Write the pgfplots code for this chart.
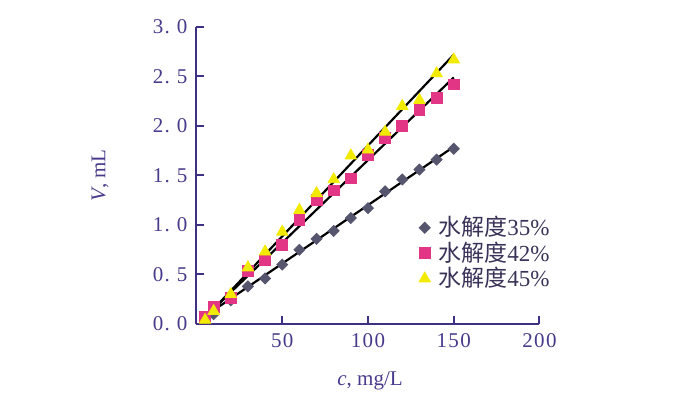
\documentclass[border=0pt]{standalone}
\usepackage{pgfplots}
\pgfplotsset{compat=1.18}
\usepackage{fontspec}
\setmainfont{Liberation Serif}
\newfontfamily\cjk{Noto Sans CJK SC}
\definecolor{axpurple}{HTML}{3F2F85}
\definecolor{txtpurple}{HTML}{4A3A8C}
\definecolor{legtxt}{HTML}{3A3258}
\definecolor{dia}{HTML}{55556E}
\definecolor{sq}{HTML}{E23585}
\definecolor{tri}{HTML}{F2EA00}
\begin{document}
\begin{tikzpicture}
\begin{axis}[
  name=ax,
  scale only axis,
  width=171.5pt, height=148.5pt,
  xmin=0, xmax=200, ymin=0, ymax=3,
  axis lines=left,
  axis line style={-, line width=1pt, color=axpurple},
  tick style={line width=1pt, color=axpurple},
  tick align=inside,
  major tick length=4pt,
  xtick={50,100,150,200},
  xticklabels={50,100,150,200},
  ytick={0,0.5,1,1.5,2,2.5,3},
  yticklabels={0.\,\,0,0.\,\,5,1.\,\,0,1.\,\,5,2.\,\,0,2.\,\,5,3.\,\,0},
  ticklabel style={font=\addfontfeature{LetterSpace=6}\fontsize{10.5}{12}\selectfont, text=txtpurple},
  xticklabel style={yshift=-1pt},
  yticklabel style={xshift=-1pt},
  xlabel={\textit{c}, mg/L},
  ylabel={\textit{V}, mL},
  label style={font=\fontsize{10.5}{12}\selectfont, text=txtpurple},
  xlabel style={at={(axis description cs:0.506,-0.192)}, anchor=center},
  ylabel style={at={(axis description cs:-0.281,0.5)}, anchor=center, rotate=0},
  legend style={draw=none, fill=none, at={(axis description cs:0.63,0.39)}, anchor=north west,
    font=\fontsize{11.5}{13}\selectfont, text=legtxt, row sep=-2.5pt,
    /tikz/every even column/.append style={column sep=2pt},
    /tikz/every odd column/.append style={column sep=2pt}},
  legend cell align=left,
  clip=false,
]
\addplot[only marks, mark=square*, mark size=1.95pt, color=dia, mark options={rotate=45}]
  coordinates {(5,0.06)(10,0.10)(20,0.24)(30,0.38)(40,0.46)(50,0.60)(60,0.75)(70,0.86)(80,0.94)(90,1.07)(100,1.17)(110,1.34)(120,1.46)(130,1.56)(140,1.66)(150,1.77)};
\addlegendentry{{\cjk 水解度}35\%}
\addplot[only marks, mark=square*, mark size=2.7pt, color=sq]
  coordinates {(5,0.07)(10,0.17)(20,0.26)(30,0.54)(40,0.65)(50,0.80)(60,1.05)(70,1.25)(80,1.35)(90,1.47)(100,1.71)(110,1.88)(120,2.00)(130,2.16)(140,2.28)(150,2.42)};
\addlegendentry{{\cjk 水解度}42\%}
\addplot[only marks, mark=triangle*, mark size=3.3pt, color=tri]
  coordinates {(5,0.04)(10,0.13)(20,0.30)(30,0.57)(40,0.73)(50,0.93)(60,1.15)(70,1.32)(80,1.46)(90,1.70)(100,1.76)(110,1.94)(120,2.20)(130,2.26)(140,2.53)(150,2.67)};
\addlegendentry{{\cjk 水解度}45\%}
\addplot[black, line width=1.1pt, forget plot] coordinates {(5,0.08)(150,1.79)};
\addplot[black, line width=1.1pt, forget plot] coordinates {(5,0.07)(150,2.49)};
\addplot[black, line width=1.1pt, forget plot] coordinates {(5,0.06)(150,2.72)};
\end{axis}
\pgfresetboundingbox
\path ([shift={(-98.25pt,-37.5pt)}]ax.south west) rectangle ([shift={(242.75pt,162pt)}]ax.south west);
\end{tikzpicture}
\end{document}
